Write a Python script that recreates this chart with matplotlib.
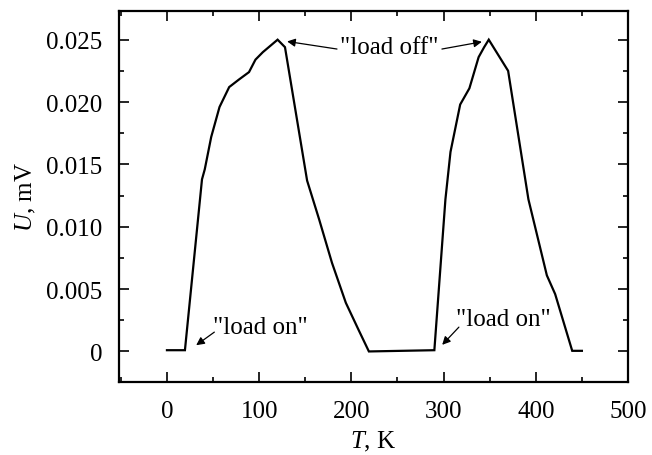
import matplotlib
matplotlib.use("Agg")
import matplotlib.pyplot as plt
from matplotlib.ticker import MultipleLocator, FixedLocator, FixedFormatter

plt.rcParams['font.family'] = ['Liberation Serif', 'DejaVu Serif']
plt.rcParams['mathtext.fontset'] = 'custom'
plt.rcParams['mathtext.rm'] = 'Liberation Serif'
plt.rcParams['mathtext.it'] = 'Liberation Serif:italic'

# Data
T = [0, 19.5, 38, 41, 48, 57, 67.5, 78, 89, 96, 104, 112, 120, 128,
     152, 165, 179, 194, 208, 219, 290, 302, 307.5, 318, 328, 338, 344, 349,
     370, 392, 412, 421, 439.5, 450]
U = [0.0001, 0.0001, 0.0138, 0.0146, 0.0172, 0.0196, 0.0212, 0.0218,
     0.0224, 0.0234, 0.0240, 0.0245, 0.0250, 0.0244,
     0.0137, 0.0106, 0.0071, 0.0039, 0.0017, 0.0, 0.0001, 0.0122, 0.0160,
     0.0198, 0.0211, 0.0236, 0.0244, 0.0250,
     0.0225, 0.0122, 0.0061, 0.0046, 0.00005, 0.00005]

ytick_values = [0, 0.005, 0.010, 0.015, 0.020, 0.025]
ytick_labels = ['0', '0.005', '0.010', '0.015', '0.020', '0.025']
xtick_values = [0, 100, 200, 300, 400, 500]

fig = plt.figure(figsize=(6.52, 4.56), dpi=100)
ax = fig.add_axes([119/652, 1-383/456, (628-119)/652, (383-12)/456])

ax.plot(T, U, color='black', lw=1.6, solid_joinstyle='miter')

ax.set_xlim(-52, 500)
ax.set_ylim(-0.00245, 0.0273)

ax.xaxis.set_major_locator(FixedLocator(xtick_values))
ax.xaxis.set_minor_locator(MultipleLocator(50))
ax.yaxis.set_major_locator(FixedLocator(ytick_values))
ax.yaxis.set_major_formatter(FixedFormatter(ytick_labels))
ax.yaxis.set_minor_locator(MultipleLocator(0.0025))

ax.tick_params(which='both', direction='in', top=True, right=True, width=1.2,
               labelsize=18, colors='black')
ax.tick_params(which='major', length=7.5)
ax.tick_params(which='minor', length=3.5)
ax.tick_params(axis='y', which='major', pad=12)
ax.tick_params(axis='x', which='major', pad=13)
for s in ax.spines.values():
    s.set_linewidth(1.6)

ax.set_xlabel(r'$\mathit{T}$, K', fontsize=18, labelpad=5)
ax.set_ylabel(r'$\mathit{U}$, mV', fontsize=18, labelpad=6)

arrow = dict(arrowstyle='-|>', lw=0.9, color='black', mutation_scale=12,
             shrinkA=0, shrinkB=0)
ax.text(240.8, 0.0244, '"load off"', fontsize=18, ha='center', va='center')
ax.annotate('', xy=(130.3, 0.02486), xytext=(184.4, 0.02425), arrowprops=arrow)
ax.annotate('', xy=(341.5, 0.02483), xytext=(298.2, 0.02425), arrowprops=arrow)

ax.text(101, 0.00195, '"load on"', fontsize=18, ha='center', va='center')
ax.annotate('', xy=(31.7, 0.0005), xytext=(51.4, 0.00155), arrowprops=arrow)
ax.text(364.8, 0.00259, '"load on"', fontsize=18, ha='center', va='center')
ax.annotate('', xy=(298.5, 0.00053), xytext=(316.6, 0.00195), arrowprops=arrow)

fig.savefig('out.png', dpi=100)
